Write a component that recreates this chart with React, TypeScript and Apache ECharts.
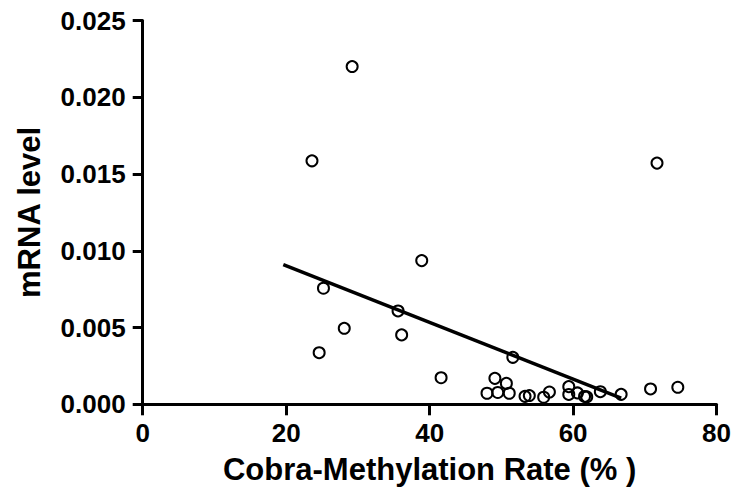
import React, { useEffect, useRef } from "react";
import * as echarts from "echarts";

const xTicks = [0, 20, 40, 60, 80];
const yTicks = [0, 0.005, 0.01, 0.015, 0.02, 0.025];

const methylation = [
  29.2, 23.6, 71.7, 38.9, 25.2, 35.6, 28.1, 36.1, 24.6, 51.6, 41.6, 49.1, 50.7, 48.0, 49.5,
  51.1, 53.3, 53.9, 55.9, 56.7, 59.4, 59.4, 60.6, 61.6, 61.9, 63.8, 66.7, 70.8, 74.6,
];
const mrna = [
  0.0220, 0.01586, 0.01571, 0.00936, 0.00756, 0.00608, 0.00495, 0.00452, 0.00336, 0.00306,
  0.00173, 0.00169, 0.00136, 0.00072, 0.00077, 0.00072, 0.00052, 0.00057, 0.00046, 0.0008,
  0.00115, 0.00064, 0.00074, 0.00051, 0.00048, 0.00082, 0.00065, 0.001, 0.00111,
];
const fitX = [19.6, 66.7];
const fitY = [0.0091, 0.0004];

const FONT = "'Liberation Sans', Arial, sans-serif";

export default function App() {
  const ref = useRef<HTMLDivElement>(null);
  useEffect(() => {
    if (!ref.current) return;
    const chart = echarts.init(ref.current, null, { renderer: "svg" });
    const axisCommon = {
      axisLine: { show: true, onZero: false, lineStyle: { color: "#000", width: 3 } },
      axisTick: { show: true, length: 10, lineStyle: { color: "#000", width: 3 } },
      splitLine: { show: false },
      nameLocation: "middle" as const,
      nameTextStyle: { color: "#000", fontFamily: FONT, fontWeight: "bold", fontSize: 31 },
    };
    chart.setOption({
      animation: false,
      backgroundColor: "#fff",
      grid: { left: 142.7, right: 16.7, top: 20.5, bottom: 87.7, containLabel: false },
      xAxis: {
        ...axisCommon,
        type: "value",
        min: xTicks[0],
        max: xTicks[xTicks.length - 1],
        interval: 20,
        name: "Cobra-Methylation Rate (% )",
        nameGap: 50,
        axisTick: { show: true, length: 11, lineStyle: { color: "#000", width: 3 } },
        axisLabel: {
          color: "#000",
          fontFamily: FONT,
          fontWeight: "bold",
          fontSize: 26,
          margin: 16,
          formatter: (v: number) => String(v),
        },
      },
      yAxis: {
        ...axisCommon,
        type: "value",
        min: yTicks[0],
        max: yTicks[yTicks.length - 1],
        interval: 0.005,
        name: "mRNA level",
        nameGap: 98,
        axisLabel: {
          color: "#000",
          fontFamily: FONT,
          fontWeight: "bold",
          fontSize: 26,
          margin: 17,
          formatter: (v: number) => v.toFixed(3),
        },
      },
      series: [
        {
          type: "line",
          data: fitX.map((x, i) => [x, fitY[i]]),
          symbol: "none",
          lineStyle: { color: "#000", width: 3.5 },
          z: 2,
        },
        {
          type: "scatter",
          data: methylation.map((x, i) => [x, mrna[i]]),
          symbol: "circle",
          symbolSize: 11,
          itemStyle: { color: "rgba(0,0,0,0)", borderColor: "#000", borderWidth: 2, opacity: 1 },
          z: 3,
        },
      ],
    });
    return () => chart.dispose();
  }, []);
  return <div ref={ref} style={{ width: 734, height: 492, position: "absolute", left: 0, top: 0 }} />;
}
